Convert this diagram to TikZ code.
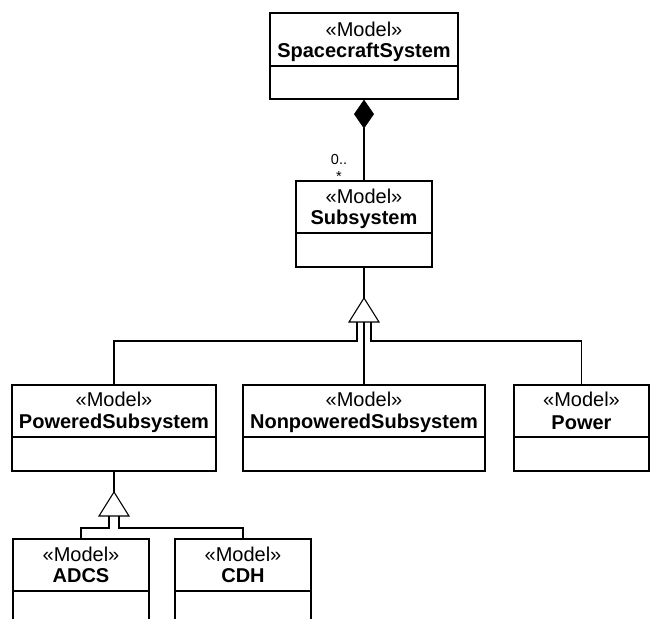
\documentclass[tikz,border=0pt]{standalone}
\usepackage{fontspec}
\setmainfont{Liberation Sans}
\usetikzlibrary{arrows.meta}

\begin{document}
\begin{tikzpicture}[x=1pt, y=-1pt,
    classbox/.style={draw, line width=1.6pt, minimum height=86pt, anchor=north, inner sep=0pt},
    stereo/.style={font=\fontsize{20}{24}\selectfont, inner sep=0pt},
    cname/.style={font=\fontsize{20}{24}\selectfont\bfseries, inner sep=0pt},
    divider/.style={line width=1.6pt},
    link/.style={line width=1.1pt},
    mult/.style={font=\fontsize{14.5}{16}\selectfont, inner sep=0pt}]
    \useasboundingbox (0,0) rectangle (650,618);
    \clip (0,0) rectangle (650,618);

    % SpacecraftSystem
    \node[classbox, minimum width=188pt] (sys) at (364,12) {};
    \draw[divider] ([yshift=-54pt]sys.north west) -- ([yshift=-54pt]sys.north east);
    \node[stereo] (sys-st) at ([yshift=-17pt]sys.north) {«Model»};
    \node[cname] (sys-nm) at ([yshift=-40pt]sys.north) {SpacecraftSystem};

    % Subsystem
    \node[classbox, minimum width=136pt] (sub) at (364,180) {};
    \draw[divider] ([yshift=-53pt]sub.north west) -- ([yshift=-53pt]sub.north east);
    \node[stereo] (sub-st) at ([yshift=-16pt]sub.north) {«Model»};
    \node[cname] (sub-nm) at ([yshift=-39pt]sub.north) {Subsystem};

    % PoweredSubsystem
    \node[classbox, minimum width=204pt] (pwr) at (114,384) {};
    \draw[divider] ([yshift=-53pt]pwr.north west) -- ([yshift=-53pt]pwr.north east);
    \node[stereo] (pwr-st) at ([yshift=-15pt]pwr.north) {«Model»};
    \node[cname] (pwr-nm) at ([yshift=-39pt]pwr.north) {PoweredSubsystem};

    % NonpoweredSubsystem
    \node[classbox, minimum width=242pt] (npwr) at (364,384) {};
    \draw[divider] ([yshift=-53pt]npwr.north west) -- ([yshift=-53pt]npwr.north east);
    \node[stereo] (npwr-st) at ([yshift=-15pt]npwr.north) {«Model»};
    \node[cname] (npwr-nm) at ([yshift=-39pt]npwr.north) {NonpoweredSubsystem};

    % Power
    \node[classbox, minimum width=135pt] (power) at (581.5,384) {};
    \draw[divider] ([yshift=-53pt]power.north west) -- ([yshift=-53pt]power.north east);
    \node[stereo] (power-st) at ([yshift=-15pt]power.north) {«Model»};
    \node[cname] (power-nm) at ([yshift=-39pt]power.north) {Power};

    % ADCS
    \node[classbox, minimum width=136pt] (adcs) at (81,538) {};
    \draw[divider] ([yshift=-53pt]adcs.north west) -- ([yshift=-53pt]adcs.north east);
    \node[stereo] (adcs-st) at ([yshift=-16pt]adcs.north) {«Model»};
    \node[cname] (adcs-nm) at ([yshift=-38pt]adcs.north) {ADCS};

    % CDH
    \node[classbox, minimum width=136pt] (cdh) at (243,538) {};
    \draw[divider] ([yshift=-53pt]cdh.north west) -- ([yshift=-53pt]cdh.north east);
    \node[stereo] (cdh-st) at ([yshift=-16pt]cdh.north) {«Model»};
    \node[cname] (cdh-nm) at ([yshift=-38pt]cdh.north) {CDH};

    % Composition
    \draw[link, {Diamond[length=29pt,width=20pt]}-] (sys.south) -- (sub.north);
    \node[mult] (m-lo) at (339,160) {0..};
    \node[mult] (m-hi) at (339,177) {*};

    % Generalization to Subsystem
    \coordinate (tri1) at (364,298);
    \coordinate (tri1-b) at (364,322);
    \draw[link] (sub.south) -- (tri1);
    \draw[link] (tri1) -- ++(-15,24) -- ++(30,0) -- cycle;
    \draw[link] ([xshift=-7pt]tri1-b) -- ++(0,19) -| (pwr.north);
    \draw[link] (tri1-b) -- (npwr.north);
    \draw[link] ([xshift=7pt]tri1-b) -- ++(0,19) -| (power.north);

    % Generalization to PoweredSubsystem
    \coordinate (tri2) at (114,492);
    \coordinate (tri2-b) at (114,516);
    \draw[link] (pwr.south) -- (tri2);
    \draw[link] (tri2) -- ++(-15,24) -- ++(30,0) -- cycle;
    \draw[link] ([xshift=-5pt]tri2-b) -- ++(0,12) -| (adcs.north);
    \draw[link] ([xshift=5pt]tri2-b) -- ++(0,12) -| (cdh.north);
\end{tikzpicture}
\end{document}
